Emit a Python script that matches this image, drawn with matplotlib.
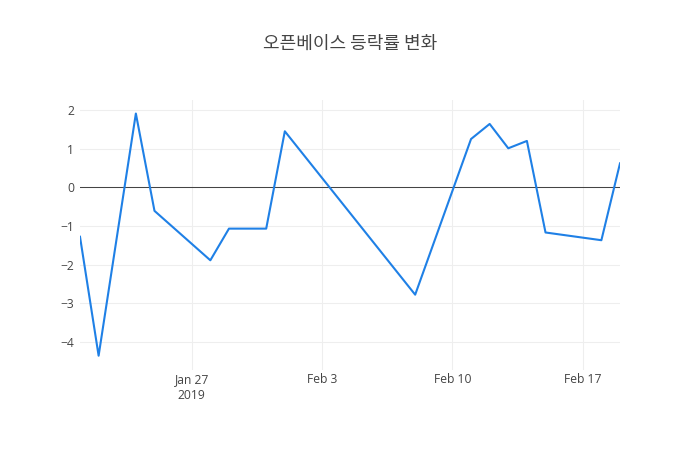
import pandas as pd
import matplotlib.pyplot as plt
import matplotlib.dates as mdates

plt.rcParams['font.family'] = ['Open Sans', 'Noto Sans CJK KR', 'DejaVu Sans']

dates = ["2019-01-21", "2019-01-22", "2019-01-24", "2019-01-25", "2019-01-28",
         "2019-01-29", "2019-01-31", "2019-02-01", "2019-02-08", "2019-02-11",
         "2019-02-12", "2019-02-13", "2019-02-14", "2019-02-15", "2019-02-18",
         "2019-02-19"]
change = [-1.28, -4.36, 1.91, -0.61, -1.89, -1.07, -1.07, 1.45, -2.78, 1.25,
          1.64, 1.01, 1.20, -1.17, -1.37, 0.62]
tick_dates = ["2019-01-27", "2019-02-03", "2019-02-10", "2019-02-17"]
tick_labels = ["Jan 27\n2019", "Feb 3", "Feb 10", "Feb 17"]
y_ticks = [-4, -3, -2, -1, 0, 1, 2]

x = pd.to_datetime(dates)

fig = plt.figure(figsize=(7, 4.5), dpi=100)
ax = fig.add_axes([80 / 700, 80 / 450, 540 / 700, 270 / 450])

ax.plot(x, change, color="#1f80e6", linewidth=1.5, zorder=3)
ax.axhline(0, color="#444444", linewidth=0.75, zorder=2)

ax.set_xlim(x[0], x[-1])
ax.set_ylim(-4.73, 2.26)
ax.set_xticks(pd.to_datetime(tick_dates))
ax.set_xticklabels(tick_labels, linespacing=1.3)
ax.set_yticks(y_ticks)
ax.set_yticklabels(["\u2212" + str(-v) if v < 0 else str(v) for v in y_ticks])

ax.grid(True, color="#eeeeee", linewidth=0.75, zorder=0)
for s in ax.spines.values():
    s.set_visible(False)
ax.tick_params(length=0, labelsize=8.7, labelcolor="#444444")
ax.tick_params(axis="x", pad=2)
ax.tick_params(axis="y", pad=4)

fig.suptitle("오픈베이스 등락률 변화", y=1 - 44 / 450, va="center",
             fontsize=13, color="#444444", family=["Noto Sans CJK KR", "DejaVu Sans"])

fig.savefig("out.png", dpi=100)
